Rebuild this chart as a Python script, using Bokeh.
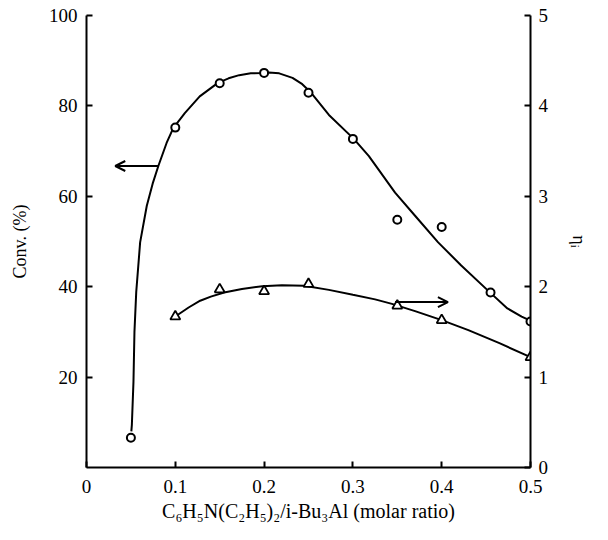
from bokeh.plotting import figure
from bokeh.models import LinearAxis, Range1d, FixedTicker, Arrow, OpenHead
from bokeh.embed import file_html
from bokeh.resources import INLINE

# ---- data ----
ratio_conv = [0.05, 0.10, 0.15, 0.20, 0.25, 0.30, 0.35, 0.40, 0.455, 0.50]
conv = [6.6, 75.2, 85.0, 87.3, 82.9, 72.7, 54.8, 53.2, 38.7, 32.3]

ratio_eta = [0.10, 0.15, 0.20, 0.25, 0.35, 0.40, 0.50]
eta = [1.67, 1.97, 1.95, 2.03, 1.79, 1.63, 1.22]

# smooth curves as drawn in the picture (traced points)
conv_curve_x = [0.0505, 0.0511, 0.0529, 0.054, 0.056, 0.0604, 0.0679, 0.0745, 0.0809, 0.0902,
                0.0977, 0.1107, 0.1275, 0.148, 0.16, 0.172, 0.185, 0.197, 0.205, 0.217,
                0.232, 0.243, 0.253, 0.273, 0.301, 0.318, 0.3475, 0.370, 0.396, 0.422,
                0.454, 0.474, 0.49, 0.502]
conv_curve_y = [8.0, 9.5, 19.0, 30.0, 38.8, 49.8, 57.9, 62.8, 66.7, 71.8,
                75.1, 78.4, 82.1, 85.1, 86.1, 86.8, 87.2, 87.3, 87.4, 87.2,
                86.2, 84.8, 82.9, 78.0, 72.7, 68.9, 60.8, 55.7, 49.8, 44.7,
                38.8, 35.2, 33.4, 32.3]

eta_curve_x = [0.10, 0.115, 0.128, 0.14, 0.155, 0.175, 0.198, 0.22, 0.245, 0.273, 0.30,
               0.325, 0.344, 0.37, 0.40, 0.43, 0.465, 0.50]
eta_curve_y = [1.67, 1.77, 1.845, 1.89, 1.935, 1.975, 2.005, 2.015, 2.01, 1.965, 1.91,
               1.86, 1.81, 1.73, 1.63, 1.52, 1.375, 1.22]

x_ticks = [0, 0.1, 0.2, 0.3, 0.4, 0.5]
x_tick_labels = ["0", "0.1", "0.2", "0.3", "0.4", "0.5"]
conv_ticks = [20, 40, 60, 80, 100]
eta_ticks = [0, 1, 2, 3, 4, 5]

x_title = "C\u2086H\u2085N(C\u2082H\u2085)\u2082/i-Bu\u2083Al (molar ratio)"
conv_title = "Conv. (%)"
eta_title = "\u03b7\u1d62"

FONT = "Liberation Serif"

p = figure(width=592, height=524, output_backend="svg", toolbar_location=None,
           x_range=Range1d(0, 0.5), y_range=Range1d(0, 100),
           min_border_left=86, min_border_right=59, min_border_top=15, min_border_bottom=56)
p.extra_y_ranges = {"eta": Range1d(0, 5)}
p.outline_line_color = None
p.xgrid.visible = False
p.ygrid.visible = False
p.background_fill_color = "white"
p.border_fill_color = "white"

eta_axis = LinearAxis(y_range_name="eta")
p.add_layout(eta_axis, "right")

for ax in [p.xaxis[0], p.yaxis[0], eta_axis]:
    ax.axis_line_width = 2
    ax.axis_line_color = "black"
    ax.major_tick_line_width = 2
    ax.major_tick_line_color = "black"
    ax.major_tick_in = 6
    ax.major_tick_out = 0
    ax.minor_tick_line_color = None
    ax.major_label_text_font = FONT
    ax.major_label_text_font_size = "19px"
    ax.major_label_text_color = "black"
    ax.axis_label_text_font = FONT
    ax.axis_label_text_font_style = "normal"
    ax.axis_label_text_color = "black"

p.xaxis[0].ticker = FixedTicker(ticks=x_ticks)
p.xaxis[0].major_label_overrides = {t: l for t, l in zip(x_ticks, x_tick_labels)}
p.xaxis[0].major_label_standoff = 12
p.xaxis[0].axis_label = x_title
p.xaxis[0].axis_label_text_font_size = "20px"
p.xaxis[0].axis_label_standoff = 4

p.yaxis[0].ticker = FixedTicker(ticks=conv_ticks)
p.yaxis[0].major_label_standoff = 9
p.yaxis[0].axis_label = conv_title
p.yaxis[0].axis_label_text_font_size = "18px"
p.yaxis[0].axis_label_standoff = 16

eta_axis.ticker = FixedTicker(ticks=eta_ticks)
eta_axis.major_label_standoff = 8
eta_axis.axis_label = eta_title
eta_axis.axis_label_text_font_size = "18px"
eta_axis.axis_label_standoff = 18

# curves
p.line(conv_curve_x, conv_curve_y, line_color="black", line_width=2)
p.line(eta_curve_x, eta_curve_y, line_color="black", line_width=2, y_range_name="eta")

# markers
p.scatter(ratio_conv, conv, marker="circle", size=8, fill_color="white",
          line_color="black", line_width=2)
p.scatter(ratio_eta, eta, marker="triangle", size=10, fill_color="white",
          line_color="black", line_width=1.8, y_range_name="eta")

# arrows pointing at the axis each curve belongs to
p.add_layout(Arrow(x_start=0.081, y_start=66.7, x_end=0.0324, y_end=66.7,
                   line_width=2, line_color="black",
                   end=OpenHead(size=10, line_width=2, line_color="black")))
p.add_layout(Arrow(x_start=0.3475, y_start=36.6, x_end=0.407, y_end=36.6,
                   line_width=2, line_color="black",
                   end=OpenHead(size=10, line_width=2, line_color="black")))

open("out.html", "w").write(file_html(p, INLINE))
